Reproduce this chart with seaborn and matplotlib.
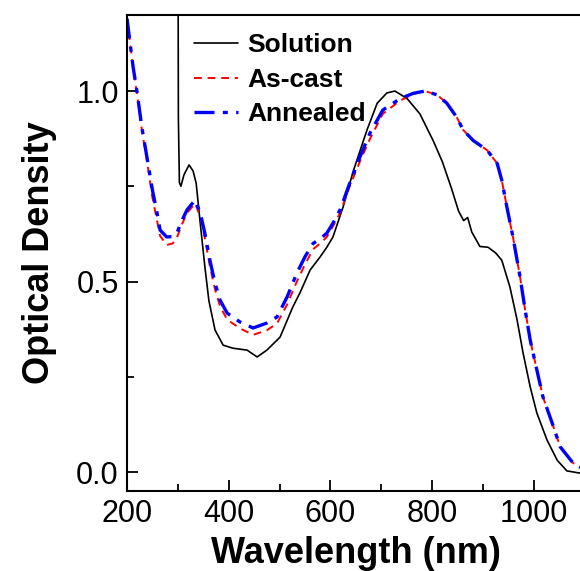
import numpy as np
import pandas as pd
import matplotlib
matplotlib.use("Agg")
import matplotlib.pyplot as plt
import seaborn as sns
from matplotlib.ticker import MultipleLocator

# Solution spectrum
sol_wl = [300, 301, 303, 306, 312, 322, 330, 336, 344, 353, 361, 373, 389, 408, 436, 456,
          475, 501, 526, 540, 560, 580, 593, 605, 625, 645, 672, 692, 711, 727, 751, 776,
          802, 820, 838, 852, 862, 870, 878, 894, 910, 925, 937, 953, 967, 979, 993, 1006,
          1026, 1046, 1065, 1091, 1100]
sol_od = [1.6, 0.93, 0.76, 0.75, 0.78, 0.806, 0.79, 0.758, 0.653, 0.54, 0.45, 0.373, 0.333,
          0.325, 0.32, 0.302, 0.32, 0.354, 0.433, 0.47, 0.53, 0.565, 0.59, 0.617, 0.696,
          0.79, 0.898, 0.968, 0.995, 1.0, 0.98, 0.94, 0.87, 0.815, 0.745, 0.685, 0.66, 0.668,
          0.63, 0.592, 0.59, 0.575, 0.556, 0.486, 0.40, 0.312, 0.223, 0.155, 0.084, 0.031,
          0.003, -0.003, -0.003]

# film spectra share the wavelength grid
film_wl = [200, 212, 220, 229, 240, 250, 259, 265, 278, 290, 298, 308, 318, 334, 344, 353,
           363, 373, 383, 397, 422, 448, 475, 495, 515, 534, 550, 566, 580, 593, 605, 619,
           638, 658, 678, 703, 737, 763, 786, 810, 829, 849, 861, 881, 908, 928, 937, 947,
           959, 973, 983, 993, 1006, 1018, 1036, 1052, 1077, 1091, 1100]
ann_od = [1.19, 1.063, 0.995, 0.906, 0.82, 0.74, 0.68, 0.635, 0.617, 0.618, 0.627, 0.66,
          0.688, 0.714, 0.68, 0.627, 0.556, 0.496, 0.451, 0.417, 0.394, 0.378, 0.391, 0.407,
          0.46, 0.522, 0.565, 0.60, 0.612, 0.627, 0.653, 0.688, 0.758, 0.827, 0.89, 0.95,
          0.98, 0.994, 1.0, 0.99, 0.968, 0.93, 0.898, 0.87, 0.845, 0.81, 0.766, 0.696, 0.617,
          0.512, 0.425, 0.346, 0.268, 0.197, 0.129, 0.066, 0.024, 0.013, 0.01]
cast_od = [1.19, 1.06, 0.99, 0.9, 0.81, 0.72, 0.66, 0.62, 0.596, 0.60, 0.615, 0.65, 0.68,
           0.705, 0.67, 0.615, 0.54, 0.48, 0.435, 0.40, 0.377, 0.36, 0.372, 0.39, 0.44,
           0.50, 0.545, 0.585, 0.60, 0.617, 0.645, 0.68, 0.75, 0.815, 0.875, 0.94, 0.975,
           0.992, 1.0, 0.99, 0.968, 0.93, 0.898, 0.87, 0.845, 0.81, 0.766, 0.696, 0.617,
           0.512, 0.425, 0.346, 0.268, 0.197, 0.129, 0.066, 0.024, 0.013, 0.01]

sns.set_style("ticks")
plt.rcParams['font.family'] = ['Liberation Sans', 'DejaVu Sans']
# plain black text like the original
for k in ['text.color', 'axes.labelcolor', 'xtick.color', 'ytick.color', 'axes.edgecolor']:
    plt.rcParams[k] = 'black'

fig = plt.figure(figsize=(5.8, 5.71), dpi=100)
ax = fig.add_axes([0.219, 0.140, 0.789, 0.834])

sns.lineplot(x=sol_wl, y=sol_od, ax=ax, color='black', lw=1.2, label='Solution', sort=False)
sns.lineplot(x=film_wl, y=cast_od, ax=ax, color='red', lw=1.4, label='As-cast', sort=False)
sns.lineplot(x=film_wl, y=ann_od, ax=ax, color='blue', lw=2.4, label='Annealed', sort=False)
ax.lines[1].set_linestyle((0, (4, 3)))
ax.lines[2].set_linestyle((0, (6, 2.5, 1.5, 2.5)))

ax.set_xlim(200, 1100)
ax.set_ylim(-0.05, 1.2)
ax.xaxis.set_major_locator(MultipleLocator(200))
ax.xaxis.set_minor_locator(MultipleLocator(100))
ax.yaxis.set_major_locator(MultipleLocator(0.5))
ax.yaxis.set_minor_locator(MultipleLocator(0.25))
ax.tick_params(which='both', direction='in', labelsize=22, width=1.3, pad=6)
ax.tick_params(which='major', length=8)
ax.tick_params(which='minor', length=5)
for s in ax.spines.values():
    s.set_linewidth(1.5)

ax.set_xlabel('Wavelength (nm)', fontsize=26, fontweight='bold', labelpad=5)
ax.set_ylabel('Optical Density', fontsize=26, fontweight='bold', labelpad=14)

leg = ax.legend(loc='upper left', bbox_to_anchor=(0.107, 1.0), frameon=False,
                prop={'size': 19, 'weight': 'bold'}, handlelength=1.65,
                handletextpad=0.35, labelspacing=0.4, borderaxespad=0.3)

fig.savefig('out.png', dpi=100)
